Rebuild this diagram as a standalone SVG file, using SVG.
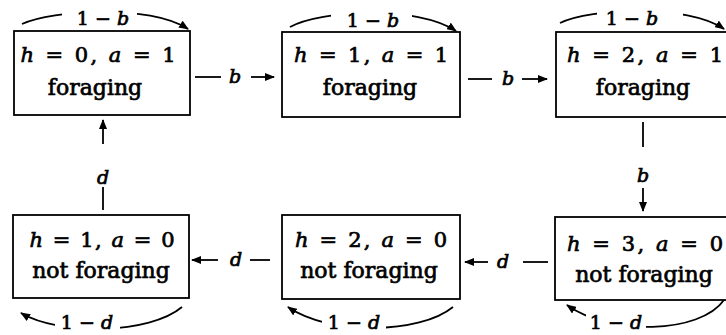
<svg xmlns="http://www.w3.org/2000/svg" width="726" height="335" viewBox="0 0 726 335">
<defs>
<marker id="ah" markerWidth="10" markerHeight="8" refX="9" refY="4" orient="auto" markerUnits="userSpaceOnUse">
<path d="M0,0 L10,4 L0,8 z" fill="#000"/>
</marker>
<style>
.box{fill:#fff;stroke:#000;stroke-width:1.8}
.t{font-family:"DejaVu Serif","Liberation Serif",serif;font-size:21px;fill:#000;stroke:#000;stroke-width:0.7;text-anchor:middle}
.w{font-size:22px}
.m{font-style:italic}
.c{fill:none;stroke:#000;stroke-width:1.8}
.ca{fill:none;stroke:#000;stroke-width:1.8;marker-end:url(#ah)}
.gap{fill:#fff}
.l{font-family:"DejaVu Serif","Liberation Serif",serif;font-size:19px;fill:#000;stroke:#000;stroke-width:0.7;text-anchor:middle}
</style>
</defs>
<rect width="726" height="335" fill="#fff"/>

<g id="connectors">
  <path class="ca" d="M22,24 C52,10 150,4 188,29"/>
  <rect class="gap" x="62" y="4" width="75" height="20"/>
  <text class="l" x="103" y="25">1 − <tspan class="m">b</tspan></text>

  <path class="ca" d="M290,27 C320,10 418,5 456,31"/>
  <rect class="gap" x="331" y="4" width="81" height="22"/>
  <text class="l" x="373" y="27">1 − <tspan class="m">b</tspan></text>

  <path class="ca" d="M560,23 C590,8 688,4 724,29"/>
  <rect class="gap" x="597" y="3" width="86" height="21"/>
  <text class="l" x="632" y="25">1 − <tspan class="m">b</tspan></text>

  <path class="ca" d="M182,307 C150,334 60,336 21,313"/>
  <rect class="gap" x="55" y="314" width="65" height="21"/>
  <text class="l" x="87" y="329">1 − <tspan class="m">d</tspan></text>

  <path class="ca" d="M453,307 C420,334 330,336 288,307"/>
  <rect class="gap" x="322" y="314" width="64" height="21"/>
  <text class="l" x="354" y="329">1 − <tspan class="m">d</tspan></text>

  <path class="ca" d="M724,300 C700,334 610,336 567,305"/>
  <rect class="gap" x="586" y="314" width="60" height="21"/>
  <text class="l" x="616" y="329">1 − <tspan class="m">d</tspan></text>

  <path class="c" d="M195,77 H221"/>
  <path class="ca" d="M251,77 H274"/>
  <text class="l m" x="235" y="83">b</text>

  <path class="c" d="M468,79 H492"/>
  <path class="ca" d="M522,79 H547"/>
  <text class="l m" x="508" y="85">b</text>

  <path class="c" d="M643,122 V147"/>
  <path class="ca" d="M643,188 V211"/>
  <text class="l m" x="643" y="182">b</text>

  <path class="c" d="M548,262 H523"/>
  <path class="ca" d="M488,262 H465"/>
  <text class="l m" x="503" y="268">d</text>

  <path class="c" d="M270,260 H250"/>
  <path class="ca" d="M218,260 H192"/>
  <text class="l m" x="236" y="266">d</text>

  <path class="c" d="M103,210 V187"/>
  <path class="ca" d="M103,144 V120"/>
  <text class="l m" x="103" y="184">d</text>
</g>

<g id="n_h0a1">
  <rect class="box" x="14" y="31" width="176" height="84"/>
  <text class="t" x="98" y="62" textLength="155" lengthAdjust="spacing"><tspan class="m">h</tspan> = 0, <tspan class="m">a</tspan> = 1</text>
  <text class="t w" x="95" y="95">foraging</text>
</g>
<g id="n_h1a1">
  <rect class="box" x="282" y="32" width="178" height="85"/>
  <text class="t" x="371" y="62" textLength="154" lengthAdjust="spacing"><tspan class="m">h</tspan> = 1, <tspan class="m">a</tspan> = 1</text>
  <text class="t w" x="370" y="95">foraging</text>
</g>
<g id="n_h2a1">
  <rect class="box" x="556" y="32" width="180" height="85"/>
  <text class="t" x="645" y="62" textLength="156" lengthAdjust="spacing"><tspan class="m">h</tspan> = 2, <tspan class="m">a</tspan> = 1</text>
  <text class="t w" x="643" y="95">foraging</text>
</g>
<g id="n_h1a0">
  <rect class="box" x="13" y="215" width="176" height="83"/>
  <text class="t" x="102" y="247" textLength="145" lengthAdjust="spacing"><tspan class="m">h</tspan> = 1, <tspan class="m">a</tspan> = 0</text>
  <text class="t w" x="101" y="278">not foraging</text>
</g>
<g id="n_h2a0">
  <rect class="box" x="282" y="215" width="178" height="84"/>
  <text class="t" x="371" y="247" textLength="152" lengthAdjust="spacing"><tspan class="m">h</tspan> = 2, <tspan class="m">a</tspan> = 0</text>
  <text class="t w" x="369" y="278">not foraging</text>
</g>
<g id="n_h3a0">
  <rect class="box" x="555" y="217" width="180" height="83"/>
  <text class="t" x="645" y="251" textLength="156" lengthAdjust="spacing"><tspan class="m">h</tspan> = 3, <tspan class="m">a</tspan> = 0</text>
  <text class="t w" x="644" y="282">not foraging</text>
</g>
</svg>
